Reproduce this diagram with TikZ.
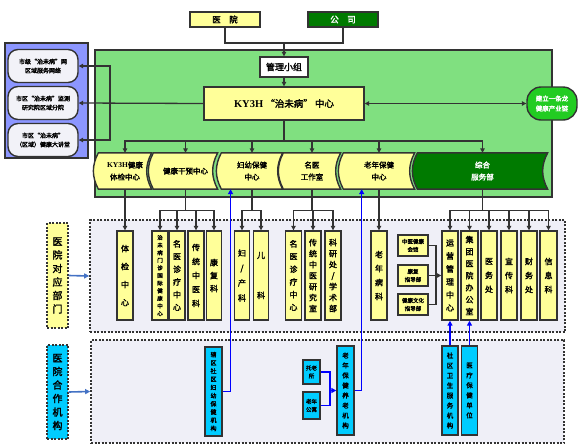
\documentclass[tikz,border=0pt]{standalone}
\usepackage{fontspec}
\setmainfont{Noto Sans CJK SC}[AutoFakeBold=2]
\newfontfamily\serifl{Liberation Serif}
\usetikzlibrary{arrows.meta,calc}
\pgfdeclarelayer{background}
\pgfsetlayers{background,main}
\definecolor{bd}{HTML}{333333}
\definecolor{yel}{HTML}{FFFF99}
\definecolor{dgreen}{HTML}{007A00}
\definecolor{bgreen}{HTML}{22CC22}
\definecolor{pgreen}{HTML}{80E080}
\definecolor{pblue}{HTML}{8C96FF}
\definecolor{cyanb}{HTML}{00CCFF}
\definecolor{lav}{HTML}{EFEFF7}
\definecolor{lbox}{HTML}{F2F2F8}
\definecolor{arrblue}{HTML}{4472C4}
\definecolor{bline}{HTML}{0000FF}
\newcommand\myfs[2]{\fontsize{#1}{#2}\selectfont}
\begin{document}
\begin{tikzpicture}[x=1pt,y=-1pt,line width=1.3pt,
  box/.style={draw=bd,line width=1.4pt,inner sep=0pt,align=center},
  ybox/.style={box,fill=yel},
  vcol/.style={ybox,minimum width=16,minimum height=89},
  ccol/.style={box,fill=cyanb,minimum width=17,minimum height=89},
  wave/.style={inner sep=0pt,align=center,minimum height=35},
  lround/.style={box,fill=lbox,rounded corners=10pt,minimum width=70,minimum height=33,font=\myfs{6}{9}\bfseries},
  panel/.style={draw=bd,line width=1.6pt,dash pattern=on 2pt off 1.5pt,fill=lav,inner sep=0pt},
  arr/.style={draw=bd,line width=1.3pt,-{Triangle[length=4.5pt,width=4.5pt]}},
  arrb/.style={draw=bd,line width=1.3pt,{Triangle[length=4.5pt,width=4.5pt]}-{Triangle[length=4.5pt,width=4.5pt]}},
  ln/.style={draw=bd,line width=1.3pt},
  barr/.style={draw=bline,line width=1.6pt,-{Triangle[length=5pt,width=5pt]}},
  bln/.style={draw=bline,line width=1.6pt},
  larr/.style={draw=arrblue,line width=1.6pt,-{Triangle[length=5pt,width=5pt]}}]
\useasboundingbox (0,0) rectangle (581,445);

% lower panels
\node[panel,minimum width=475,minimum height=112] (p1) at (327.5,276) {};
\node[panel,minimum width=473,minimum height=103] (p2) at (327.5,391.5) {};

% top
\node[ybox,minimum width=70,minimum height=15,font=\myfs{8.5}{10}\bfseries] (hosp) at (225,19.5) {医\quad 院};
\node[box,fill=dgreen,text=white,minimum width=70,minimum height=15,font=\myfs{8.5}{10}\bfseries] (comp) at (343,19.5) {公\quad 司};
\node[box,fill=white,minimum width=48,minimum height=20,font=\myfs{9}{11}\bfseries] (mg) at (284,67) {管理小组};
\node[ybox,minimum width=160,minimum height=33,font=\myfs{9.5}{11}\bfseries] (ky) at (284,103.5) {{\serifl\myfs{10.5}{11}KY3H} “治未病” 中心};
\node[box,fill=bgreen,text=white,rounded corners=14pt,minimum width=50,minimum height=33,font=\myfs{6.5}{10}\bfseries] (chain) at (552,103.5) {建立一条龙\\健康产业链};

% left rounded boxes
\node[lround] (net1) at (43,66) {市级“治未病”网\\区域服务网络};
\node[lround] (net2) at (43,103) {市区“治未病”监测\\研究院区域分院};
\node[lround] (net3) at (43,140) {市区“治未病”\\（区域）健康大讲堂};

% middle wave boxes
\node[wave,minimum width=52,font=\myfs{7.5}{12}\bfseries] (m1) at (125,171) {{\serifl KY3H}健康\\体检中心};
\node[wave,minimum width=63,font=\myfs{7.5}{12}\bfseries] (m2) at (185.5,171) {健康干预中心};
\node[wave,minimum width=60,font=\myfs{7.5}{12}\bfseries] (m3) at (252,171) {妇幼保健\\中心};
\node[wave,minimum width=56,font=\myfs{7.5}{12}\bfseries] (m4) at (312,171) {名医\\工作室};
\node[wave,minimum width=70,font=\myfs{7.5}{12}\bfseries] (m5) at (379,171) {老年保健\\中心};
\node[wave,minimum width=129,text=white,font=\myfs{7.5}{12}\bfseries] (m6) at (482.5,171) {综合\\服务部};

% lower columns
\node[vcol,font=\myfs{8}{18}\bfseries] (d1) at (125,275.5) {体\\检\\中\\心};
\node[vcol,font=\myfs{5.5}{7.6}\bfseries] (d2) at (160,275.5) {治\\未\\病\\门\\诊\\国\\际\\健\\康\\中\\心};
\node[vcol,font=\myfs{8}{12.7}\bfseries] (d3) at (177,275.5) {名\\医\\诊\\疗\\中\\心};
\node[vcol,font=\myfs{8}{14}\bfseries] (d4) at (196,275.5) {传\\统\\中\\医\\科};
\node[vcol,minimum width=15,font=\myfs{8}{13}\bfseries] (d5) at (214,275.5) {康\\复\\科};
\node[vcol,minimum width=15,font=\myfs{8}{15}\bfseries] (d6) at (242,275.5) {妇\\/\\产\\科};
\node[vcol,minimum width=15,font=\myfs{8}{40}\bfseries] (d7) at (261,275.5) {儿\\科};
\node[vcol,font=\myfs{8}{12.7}\bfseries] (d8) at (293.5,275.5) {名\\医\\诊\\疗\\中\\心};
\node[vcol,font=\myfs{8}{11}\bfseries] (d9) at (313,275.5) {传\\统\\中\\医\\研\\究\\室};
\node[vcol,font=\myfs{8}{11}\bfseries] (d10) at (333,275.5) {科\\研\\处\\/\\学\\术\\部};
\node[vcol,font=\myfs{8}{14}\bfseries] (d11) at (379,275.5) {老\\年\\病\\科};
\node[ybox,minimum width=30,minimum height=21,font=\myfs{5.5}{8}\bfseries] (s1) at (413,245.5) {中医健康\\会馆};
\node[ybox,minimum width=30,minimum height=21,font=\myfs{5.5}{8}\bfseries] (s2) at (413,275.5) {康复\\指导部};
\node[ybox,minimum width=30,minimum height=21,font=\myfs{5.5}{8}\bfseries] (s3) at (413,304.5) {健康文化\\指导部};
\node[vcol,font=\myfs{8}{13}\bfseries] (d12) at (450,275.5) {运\\营\\管\\理\\中\\心};
\node[vcol,minimum width=17,font=\myfs{8}{12}\bfseries] (d13) at (469.5,275.5) {集\\团\\医\\院\\办\\公\\室};
\node[vcol,font=\myfs{8}{14}\bfseries] (d14) at (489,275.5) {医\\务\\处};
\node[vcol,font=\myfs{8}{14}\bfseries] (d15) at (509,275.5) {宣\\传\\科};
\node[vcol,font=\myfs{8}{14}\bfseries] (d16) at (529,275.5) {财\\务\\处};
\node[vcol,minimum width=17,font=\myfs{8}{14}\bfseries] (d17) at (548.5,275.5) {信\\息\\科};

% bottom cyan boxes
\node[ccol,font=\myfs{6}{8.2}\bfseries] (e1) at (213.5,391.5) {辖\\区\\社\\区\\妇\\幼\\保\\健\\机\\构};
\node[box,fill=cyanb,minimum width=17,minimum height=24,font=\myfs{5.5}{8}\bfseries] (e2) at (311.5,372) {托老\\所};
\node[box,fill=cyanb,minimum width=17,minimum height=27,font=\myfs{5.5}{8}\bfseries] (e3) at (311.5,405.5) {老年\\公寓};
\node[ccol,font=\myfs{6.5}{10}\bfseries] (e4) at (345.5,390.5) {老\\年\\保\\健\\养\\老\\机\\构};
\node[ccol,minimum width=16,font=\myfs{6.5}{10}\bfseries] (e5) at (450,390.5) {社\\区\\卫\\生\\服\\务\\机\\构};
\node[ccol,minimum width=16,font=\myfs{6.5}{10}\bfseries] (e6) at (469.5,390.5) {医\\疗\\保\\健\\单\\位};

% left labels
\node[box,dash pattern=on 2pt off 1.5pt,fill=yel,minimum width=21,minimum height=105,font=\myfs{10}{13.5}\bfseries] (lab1) at (57.5,275.5) {医\\院\\对\\应\\部\\门};
\node[box,dash pattern=on 2pt off 1.5pt,fill=cyanb,minimum width=21,minimum height=94,font=\myfs{10}{13.5}\bfseries] (lab2) at (57.5,392) {医\\院\\合\\作\\机\\构};
\draw[larr] (lab1.east) -- (p1.west);
\draw[larr] (lab2.east) -- (p2.west);

% top connectors
\coordinate (j1) at (284,43);
\draw[ln] (hosp.south) |- (j1);
\draw[ln] (comp.south) |- (j1);
\draw[arr] (j1) -- (mg.north);
\draw[arr] (mg.south) -- (ky.north);
\draw[arrb] (ky.east) -- (chain.west);
\coordinate (j2) at (110,103.5);
\draw[arr] (ky.west) -- (net2.east);
\draw[arr] (j2) |- (net1.east);
\draw[arr] (j2) |- (net3.east);

% bus to middle
\coordinate (bus) at (284,141);
\draw[ln] (ky.south) -- (bus);
\foreach \t in {m1,m2,m3,m4,m5,m6} \draw[arr] (bus) -| (\t.north);

% middle to lower
\draw[arr] (m1.south) -- (d1.north);
\coordinate (c2) at ($(m2.south)+(0,21)$);
\draw[ln] (m2.south) -- (c2);
\foreach \t in {d2,d3,d4,d5} \draw[arr] (c2) -| (\t.north);
\coordinate (c3) at ($(m3.south)+(0,21)$);
\draw[ln] (m3.south) -- (c3);
\foreach \t in {d6,d7} \draw[arr] (c3) -| (\t.north);
\coordinate (c4) at ($(m4.south)+(0,21)$);
\draw[ln] (m4.south) -- (c4);
\foreach \t in {d8,d9,d10} \draw[arr] (c4) -| (\t.north);
\draw[arr] (m5.south) -- (d11.north);
\coordinate (c6) at ($(m6.south)+(0,21)$);
\draw[ln] (m6.south) -- (c6);
\foreach \t in {d12,d13,d14,d15,d16,d17} \draw[arr] (c6) -| (\t.north);

% small boxes to d12
\coordinate (sj) at (436,275.5);
\draw[ln] (s1.east) -| (sj);
\draw[ln] (s3.east) -| (sj);
\draw[ln] (s2.east) -- (sj);
\draw[arr] (sj) -- (d12.west);

% blue connectors
\draw[barr] (e1.east) -| ($(m3.south west)!0.15!(m3.south east)$);
\draw[barr] (e4.east) -| ($(m5.south west)!0.257!(m5.south east)$);
\coordinate (bj) at (330,390.5);
\draw[bln] (e2.east) -| (bj);
\draw[bln] (e3.east) -| (bj);
\draw[barr] (bj) -- (e4.west);
\draw[barr] (e5.north) -- (d12.south);
\draw[barr] (e6.north) -- (d13.south);

% background shapes
\begin{pgfonlayer}{background}
\draw[draw=bd,line width=1.5pt,fill=pgreen] (95,50) rectangle (552,197);
\draw[draw=bd,line width=1.5pt,fill=pblue] (5,43) rectangle (88,158);
\foreach \n/\c in {m1/yel,m2/yel,m3/yel,m4/yel,m5/yel,m6/dgreen}
  \path[draw=bd,fill=\c,line width=1.4pt] (\n.north west) to[bend right=28] (\n.south west) -- (\n.south east) to[bend left=28] (\n.north east) -- cycle;
\end{pgfonlayer}
\end{tikzpicture}
\end{document}
